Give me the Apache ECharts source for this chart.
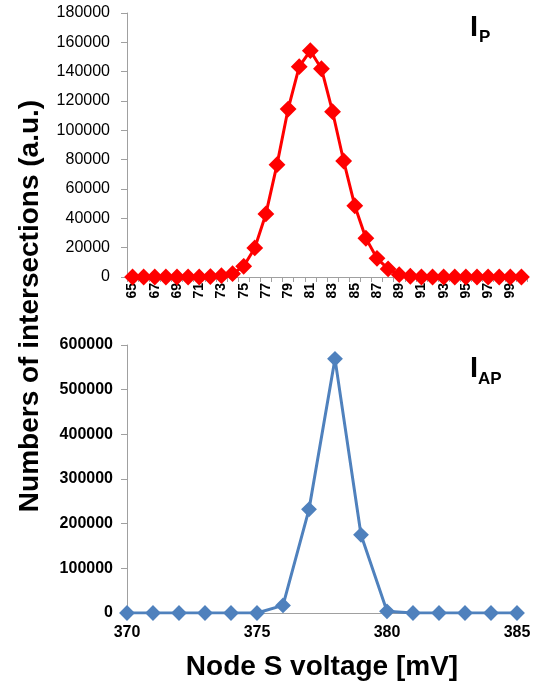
<!DOCTYPE html>
<html>
<head>
<meta charset="utf-8">
<script src="https://cdn.jsdelivr.net/npm/echarts@6/dist/echarts.min.js"></script>
<style>html,body{margin:0;padding:0;background:#fff;}#c{width:534px;height:683px;}</style>
</head>
<body>
<div id="c"></div>
<script>
// Top panel (I_P): categories in mV and counts
const topCategories = ['65','66','67','68','69','70','71','72','73','74','75','76','77','78','79','80','81','82','83','84','85','86','87','88','89','90','91','92','93','94','95','96','97','98','99','100'];
const topValues = [0,0,0,0,0,0,0,300,900,2300,7300,19800,43000,76600,114500,143400,154300,142000,112700,79100,48600,26400,12700,5500,1600,500,0,0,0,0,0,0,0,0,0,0];
// Bottom panel (I_AP)
const bottomX = [370,371,372,373,374,375,376,377,378,379,380,381,382,383,384,385];
const bottomValues = [0,0,0,0,0,0,17000,232000,569000,175000,3700,0,0,0,0,0];
const topYTicks = {min:0, max:180000, interval:20000};
const bottomYTicks = {min:0, max:600000, interval:100000};
const bottomXTicks = {min:370, max:385, interval:5};

const FONT = '"Liberation Sans", Arial, sans-serif';
const axisGray = '#a0a0a0';
const plain = v => String(v);

const chart = echarts.init(document.getElementById('c'), null, {renderer:'canvas'});
chart.setOption({
  animation: false,
  backgroundColor: '#fff',
  grid: [
    {left:127, top:13, width:400, height:264},
    {left:127, top:345, width:390, height:268}
  ],
  xAxis: [
    {
      gridIndex:0, type:'category', data: topCategories, boundaryGap:true,
      axisLine:{lineStyle:{color:axisGray, width:1}},
      axisTick:{show:true, interval:0, length:5, lineStyle:{color:axisGray}},
      axisLabel:{interval:1, rotate:90, margin:6, color:'#000', fontFamily:FONT, fontWeight:'bold', fontSize:14}
    },
    {
      gridIndex:1, type:'value', min:bottomXTicks.min, max:bottomXTicks.max, interval:bottomXTicks.interval,
      axisLine:{lineStyle:{color:axisGray, width:1}},
      axisTick:{show:false},
      splitLine:{show:false},
      axisLabel:{margin:12, color:'#000', fontFamily:FONT, fontWeight:'bold', fontSize:16, formatter:plain}
    }
  ],
  yAxis: [
    {
      gridIndex:0, type:'value', min:topYTicks.min, max:topYTicks.max, interval:topYTicks.interval,
      axisLine:{show:true, lineStyle:{color:axisGray, width:1}},
      axisTick:{show:true, length:6, lineStyle:{color:axisGray}},
      splitLine:{show:false},
      axisLabel:{margin:17, color:'#000', fontFamily:FONT, fontSize:16, formatter:plain}
    },
    {
      gridIndex:1, type:'value', min:bottomYTicks.min, max:bottomYTicks.max, interval:bottomYTicks.interval,
      axisLine:{show:true, lineStyle:{color:axisGray, width:1}},
      axisTick:{show:true, length:6, lineStyle:{color:axisGray}},
      splitLine:{show:false},
      axisLabel:{margin:14, color:'#000', fontFamily:FONT, fontWeight:'bold', fontSize:16, formatter:plain}
    }
  ],
  series: [
    {
      type:'line', xAxisIndex:0, yAxisIndex:0, data: topValues,
      symbol:'diamond', symbolSize:14, showAllSymbol:true,
      lineStyle:{color:'#ff0000', width:3},
      itemStyle:{color:'#ff0000', borderColor:'#ff0000', borderWidth:2}
    },
    {
      type:'line', xAxisIndex:1, yAxisIndex:1,
      data: bottomX.map((x,i)=>[x, bottomValues[i]]),
      symbol:'diamond', symbolSize:13, showAllSymbol:true,
      lineStyle:{color:'#4f81bd', width:3},
      itemStyle:{color:'#4f81bd', borderColor:'#4f81bd', borderWidth:2}
    }
  ],
  graphic: [
    {type:'text', x:30, y:306, rotation:Math.PI/2,
     style:{text:'Numbers of intersections (a.u.)', font:'bold 28px '+FONT, fill:'#000', align:'center', verticalAlign:'middle'}},
    {type:'text', x:322, y:667,
     style:{text:'Node S voltage [mV]', font:'bold 28px '+FONT, fill:'#000', align:'center', verticalAlign:'middle'}},
    {type:'text', x:470, y:28,
     style:{text:'I', font:'bold 29px '+FONT, fill:'#000', align:'left', verticalAlign:'middle'}},
    {type:'text', x:479, y:37.5,
     style:{text:'P', font:'bold 17px '+FONT, fill:'#000', align:'left', verticalAlign:'middle'}},
    {type:'text', x:470, y:369,
     style:{text:'I', font:'bold 29px '+FONT, fill:'#000', align:'left', verticalAlign:'middle'}},
    {type:'text', x:478, y:379,
     style:{text:'AP', font:'bold 17px '+FONT, fill:'#000', align:'left', verticalAlign:'middle'}}
  ]
});
</script>
</body>
</html>
